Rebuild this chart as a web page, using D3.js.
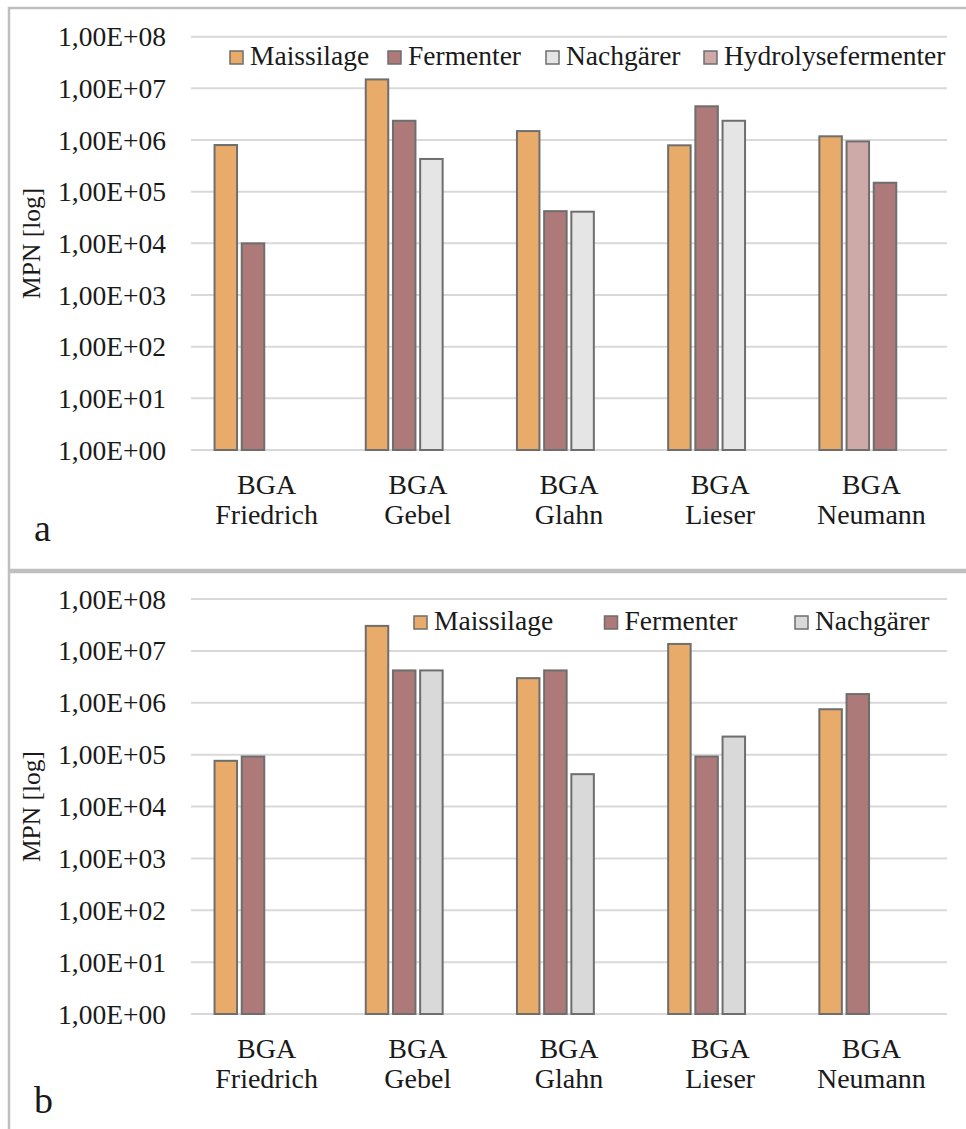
<!DOCTYPE html>
<html>
<head>
<meta charset="utf-8">
<script src="https://cdn.jsdelivr.net/npm/d3@7"></script>
<style>
  html, body { margin: 0; padding: 0; background: #fff; }
  svg { display: block; }
  text { font-family: "Liberation Serif", "Times New Roman", serif; fill: #1a1a1a; }
</style>
</head>
<body>
<svg id="chart" width="966" height="1129"></svg>
<script>
// ---------- data ----------
const catLine1 = ["BGA", "BGA", "BGA", "BGA", "BGA"];
const catLine2 = ["Friedrich", "Gebel", "Glahn", "Lieser", "Neumann"];
const tickValues = [1, 10, 100, 1e3, 1e4, 1e5, 1e6, 1e7, 1e8];
const tickLabels = ["1,00E+00", "1,00E+01", "1,00E+02", "1,00E+03", "1,00E+04",
                    "1,00E+05", "1,00E+06", "1,00E+07", "1,00E+08"];

// Panel a
const seriesA = ["Maissilage", "Fermenter", "Nachgärer", "Hydrolysefermenter"];
const maisA  = [8.0e5, 1.49e7, 1.49e6, 7.9e5, 1.18e6];
const fermA  = [1.0e4, 2.36e6, 4.2e4, 4.5e6, 1.49e5];
const nachA  = [null, 4.3e5, 4.1e4, 2.36e6, null];
const hydroA = [null, null, null, null, 9.4e5];
// slot (position within group) of each series per category
const slotMaisA  = [0, 0, 0, 0, 0];
const slotFermA  = [1, 1, 1, 1, 2];
const slotNachA  = [2, 2, 2, 2, 2];
const slotHydroA = [1, 1, 1, 1, 1];

// Panel b
const seriesB = ["Maissilage", "Fermenter", "Nachgärer"];
const maisB = [7.6e4, 3.03e7, 2.98e6, 1.36e7, 7.5e5];
const fermB = [9.2e4, 4.2e6, 4.2e6, 9.2e4, 1.47e6];
const nachB = [null, 4.2e6, 4.2e4, 2.23e5, null];
const slotMaisB = [0, 0, 0, 0, 0];
const slotFermB = [1, 1, 1, 1, 1];
const slotNachB = [2, 2, 2, 2, 2];

// ---------- styles ----------
const colorsA = { "Maissilage": "#E8AB69", "Fermenter": "#AD7979", "Nachgärer": "#E5E5E5", "Hydrolysefermenter": "#CFA8A8" };
const colorsB = { "Maissilage": "#E8AB69", "Fermenter": "#AD7979", "Nachgärer": "#D9D9D9" };

const svg = d3.select("#chart");
const cats = catLine2;

function buildBars(seriesNames, valueArrays, slotArrays) {
  const bars = [];
  seriesNames.forEach((s, si) => {
    valueArrays[si].forEach((v, ci) => {
      if (v != null) bars.push({ series: s, cat: cats[ci], value: v, slot: slotArrays[si][ci] });
    });
  });
  return bars;
}

function drawPanel(cfg) {
  const g = svg.append("g");
  // panel frame
  g.append("rect")
    .attr("x", 9).attr("y", cfg.frameTop)
    .attr("width", 980).attr("height", cfg.frameH)
    .attr("fill", "none").attr("stroke", "#BFBFBF").attr("stroke-width", 2.5);

  const x = d3.scaleBand().domain(cats).range([191, 947]).paddingInner(0).paddingOuter(0);
  const xs = d3.scaleBand().domain([0, 1, 2, 3]).range([0, x.bandwidth()])
    .paddingInner(0.173).paddingOuter(0.866);
  const y = d3.scaleLog().domain([1, 1e8]).range([cfg.y0, cfg.y8]);

  // gridlines
  g.append("g").selectAll("line").data(tickValues).join("line")
    .attr("x1", 191).attr("x2", 947)
    .attr("y1", d => y(d)).attr("y2", d => y(d))
    .attr("stroke", "#D9D9D9").attr("stroke-width", 2);

  // y axis labels
  const yAxis = d3.axisLeft(y).tickValues(tickValues)
    .tickFormat((d, i) => tickLabels[i]).tickSize(0).tickPadding(0);
  const ya = g.append("g").attr("transform", "translate(166,0)").call(yAxis);
  ya.select(".domain").remove();
  ya.selectAll("text").attr("font-family", "Liberation Serif").attr("font-size", 27.5)
    .attr("fill", "#1a1a1a").attr("dy", "0.33em");

  // bars
  const bars = buildBars(cfg.series, cfg.values, cfg.slots);
  g.append("g").selectAll("rect").data(bars).join("rect")
    .attr("x", d => x(d.cat) + xs(d.slot))
    .attr("width", xs.bandwidth())
    .attr("y", d => y(d.value))
    .attr("height", d => y(1) - y(d.value))
    .attr("fill", d => cfg.colors[d.series])
    .attr("stroke", "#6E6E6E").attr("stroke-width", 2);

  // category labels
  const cl = g.append("g").selectAll("text").data(cats).join("text")
    .attr("text-anchor", "middle").attr("font-size", 28)
    .attr("x", d => x(d) + x.bandwidth() / 2)
    .attr("y", y(1) + 44);
  cl.append("tspan").attr("x", d => x(d) + x.bandwidth() / 2).text((d, i) => catLine1[i]);
  cl.append("tspan").attr("x", d => x(d) + x.bandwidth() / 2).attr("dy", 30).text(d => d);

  // axis title
  g.append("text")
    .attr("transform", `translate(40,${(cfg.y0 + cfg.y8) / 2}) rotate(-90)`)
    .attr("text-anchor", "middle").attr("font-size", 25.5)
    .text("MPN [log]");

  // legend
  const lg = g.append("g").selectAll("g").data(cfg.series).join("g")
    .attr("transform", (d, i) => `translate(${cfg.legX + i * cfg.legStep},${cfg.legY})`);
  lg.append("rect").attr("x", -20).attr("y", -14).attr("width", 13).attr("height", 13)
    .attr("fill", d => cfg.colors[d]).attr("stroke", "#6E6E6E").attr("stroke-width", 1.5);
  lg.append("text").attr("x", 0).attr("y", 0).attr("font-size", 27.5).text(d => d);

  // panel letter
  g.append("text").attr("x", 34).attr("y", cfg.letterY)
    .attr("font-family", "Liberation Sans, Arial, sans-serif")
    .attr("font-size", 38).text(cfg.letter);
}

drawPanel({
  frameTop: 8, frameH: 562,
  y0: 450, y8: 36.7,
  series: seriesA, values: [maisA, fermA, nachA, hydroA],
  slots: [slotMaisA, slotFermA, slotNachA, slotHydroA],
  colors: colorsA,
  legX: 250, legStep: 158, legY: 65,
  letter: "a", letterY: 541
});

drawPanel({
  frameTop: 572, frameH: 580,
  y0: 1014, y8: 599,
  series: seriesB, values: [maisB, fermB, nachB],
  slots: [slotMaisB, slotFermB, slotNachB],
  colors: colorsB,
  legX: 434, legStep: 190.5, legY: 630,
  letter: "b", letterY: 1113
});
</script>
</body>
</html>
